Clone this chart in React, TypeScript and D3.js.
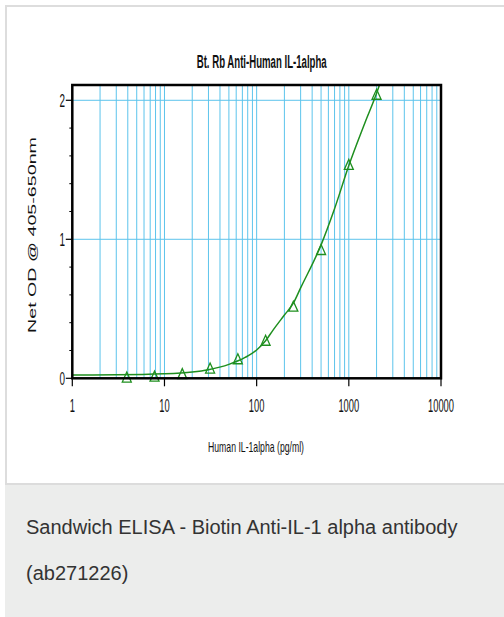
import React from "react";
import * as d3 from "d3";

// ---- data ----
const concentrations = [3.9, 7.8, 15.6, 31.25, 62.5, 125, 250, 500, 1000, 2000];
const netOD = [0.005, 0.012, 0.03, 0.07, 0.137, 0.27, 0.515, 0.923, 1.535, 2.04];

// fitted curve as drawn in the reference (read at several concentrations)
const fitConc = [1, 3, 10, 20, 30, 50, 75, 100, 125, 150, 200, 250, 300, 500, 700, 1000, 1500, 2000, 2200];
const fitOD = [0.024, 0.025, 0.032, 0.045, 0.062, 0.1, 0.15, 0.204, 0.27, 0.345, 0.455, 0.54, 0.65, 0.96, 1.22, 1.53, 1.84, 2.05, 2.13];

const xTickValues = [1, 10, 100, 1000, 10000];
const xTickLabels = ["1", "10", "100", "1000", "10000"];
const yTickValues = [0, 1, 2];
const yTickLabels = ["0", "1", "2"];
const yMinorTicks = [0.2, 0.4, 0.6, 0.8, 1.2, 1.4, 1.6, 1.8];

const title = "Bt. Rb Anti-Human IL-1alpha";
const xTitle = "Human IL-1alpha (pg/ml)";
const yTitle = "Net OD @ 405-650nm";
const captionLines = ["Sandwich ELISA - Biotin Anti-IL-1 alpha antibody", "(ab271226)"];

// ---- layout ----
const W = 504;
const H = 617;
const plot = { left: 72.3, right: 441, top: 85, bottom: 378.3 };
const GREEN = "#1f8f1f";
const GRID = "#5cc4ec";
const NARROW = "'Liberation Sans Narrow', 'Liberation Sans', Arial, sans-serif";

export default function App() {
  const x = d3.scaleLog().domain([1, 10000]).range([plot.left, plot.right]);
  const y = d3.scaleLinear().domain([0, 2.11]).range([plot.bottom, plot.top]);

  const gridX: number[] = [];
  for (let k = 0; k < 4; k++) {
    for (let m = 1; m <= 9; m++) {
      const v = m * Math.pow(10, k);
      if (v > 1) gridX.push(v);
    }
  }

  const line = d3
    .line<number>()
    .x((_, i) => x(fitConc[i]))
    .y((d) => y(d))
    .curve(d3.curveMonotoneX);

  const tri = "M0,-5.5L4.5,4.5L-4.5,4.5Z";

  return (
    <div style={{ position: "absolute", left: 0, top: 0, width: W, height: H }}>
      <svg width={W} height={H} style={{ display: "block" }}>
        <rect x={0} y={0} width={W} height={H} fill="#ffffff" />
        {/* card borders */}
        <rect x={5} y={5} width={W - 5} height={2} fill="#dddddd" />
        <rect x={5} y={5} width={2} height={480} fill="#dddddd" />
        <rect x={5} y={483} width={W - 5} height={H - 483} fill="#ecedec" />
        <rect x={5} y={483} width={W - 5} height={2} fill="#dcdcdc" />

        <defs>
          <clipPath id="plotclip">
            <rect x={plot.left} y={plot.top} width={plot.right - plot.left} height={plot.bottom - plot.top} />
          </clipPath>
        </defs>

        {/* grid */}
        {gridX.map((v, i) => (
          <line key={"gx" + i} x1={x(v)} x2={x(v)} y1={plot.top} y2={plot.bottom} stroke={GRID} strokeWidth={1} />
        ))}
        {[1, 2].map((v) => (
          <line key={"gy" + v} x1={plot.left} x2={plot.right} y1={y(v)} y2={y(v)} stroke={GRID} strokeWidth={1} />
        ))}

        {/* curve */}
        <g clipPath="url(#plotclip)">
          <path d={line(fitOD) || ""} fill="none" stroke={GREEN} strokeWidth={1.5} />
        </g>

        {/* points */}
        {concentrations.map((c, i) => (
          <path
            key={"p" + i}
            d={tri}
            transform={`translate(${x(c)},${y(netOD[i])})`}
            fill="none"
            stroke={GREEN}
            strokeWidth={1.3}
          />
        ))}

        {/* frame */}
        <rect
          x={plot.left}
          y={plot.top}
          width={plot.right - plot.left}
          height={plot.bottom - plot.top}
          fill="none"
          stroke="#000"
          strokeWidth={2.5}
        />

        {/* y ticks */}
        {yTickValues.map((v, i) => (
          <g key={"yt" + i}>
            <line x1={plot.left - 6.5} x2={plot.left} y1={y(v)} y2={y(v)} stroke="#000" strokeWidth={1.2} />
            <text
              x={65}
              y={y(v) + 6.8}
              textAnchor="end"
              fontFamily={NARROW}
              fontSize={19}
              textLength={5.5}
              lengthAdjust="spacingAndGlyphs"
              fill="#111"
            >
              {yTickLabels[i]}
            </text>
          </g>
        ))}
        {yMinorTicks.map((v, i) => (
          <line key={"ym" + i} x1={plot.left - 3} x2={plot.left} y1={y(v)} y2={y(v)} stroke="#000" strokeWidth={1} />
        ))}

        {/* x ticks */}
        {xTickValues.map((v, i) => (
          <g key={"xt" + i}>
            <line x1={x(v)} x2={x(v)} y1={plot.bottom} y2={plot.bottom + 8} stroke="#000" strokeWidth={1.2} />
            <text
              x={x(v)}
              y={412}
              textAnchor="middle"
              fontFamily={NARROW}
              fontSize={19}
              textLength={xTickLabels[i].length * 5.2}
              lengthAdjust="spacingAndGlyphs"
              fill="#111"
            >
              {xTickLabels[i]}
            </text>
          </g>
        ))}

        {/* titles */}
        <text
          x={261.7}
          y={67.7}
          textAnchor="middle"
          fontFamily={NARROW}
          fontWeight="bold"
          fontSize={18}
          textLength={130}
          lengthAdjust="spacingAndGlyphs"
          fill="#111"
        >
          {title}
        </text>
        <text
          x={256}
          y={452}
          textAnchor="middle"
          fontFamily={NARROW}
          fontSize={15}
          textLength={96}
          lengthAdjust="spacingAndGlyphs"
          fill="#111"
        >
          {xTitle}
        </text>
        <text
          transform="translate(36,235) rotate(-90)"
          textAnchor="middle"
          fontFamily="'Liberation Sans', Arial, sans-serif"
          fontSize={11}
          textLength={196}
          lengthAdjust="spacingAndGlyphs"
          fill="#111"
        >
          {yTitle}
        </text>

        {/* caption */}
        {captionLines.map((t, i) => (
          <text
            key={"c" + i}
            x={26}
            y={534 + i * 46}
            fontFamily="'Liberation Sans', Arial, sans-serif"
            fontSize={20}
            fill="#333"
          >
            {t}
          </text>
        ))}
      </svg>
    </div>
  );
}
